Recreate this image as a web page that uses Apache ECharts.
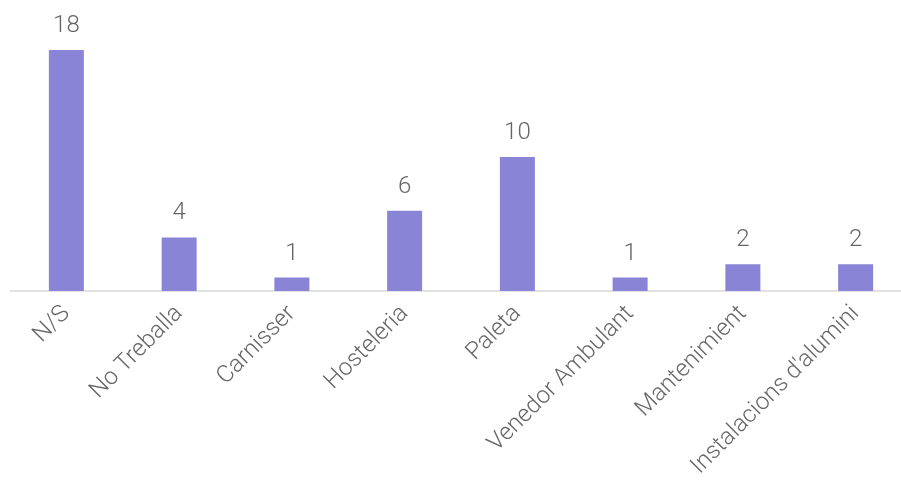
<!DOCTYPE html>
<html>
<head>
<meta charset="utf-8">
<script src="https://cdn.jsdelivr.net/npm/echarts@6/dist/echarts.min.js"></script>
<style>
	html,body{margin:0;padding:0;background:#fff;}
	#chart{width:901px;height:488px;}
</style>
</head>
<body>
<div id="chart"></div>
<script>
	//数据
	var categories = ['N/S','No Treballa','Carnisser','Hosteleria','Paleta','Venedor Ambulant','Mantenimient','Instalacions d\'alumini'];
	var values = [18,4,1,6,10,1,2,2];

	var myEchart = echarts.init(document.getElementById('chart'));
	var option = {
		animation : false,
		grid : {
			left : 10,
			width : 902,
			top : 50,
			bottom : 197,
			outerBoundsMode : 'none'
		},
		xAxis : {
			type : 'category',
			data : categories,
			axisLine : { lineStyle : { color : '#d9d9d9', width : 1.5 } },
			axisTick : { show : false },
			axisLabel : {
				rotate : 45,
				interval : 0,
				margin : 19,
				color : '#666666',
				fontFamily : 'Roboto',
				fontWeight : 300,
				fontSize : 24
			}
		},
		yAxis : {
			type : 'value',
			min : 0,
			max : 18,
			show : false,
			splitLine : { show : false }
		},
		series : [
			{
				type : 'bar',
				data : values,
				barWidth : 35,
				itemStyle : { color : '#8a84d7' },
				label : {
					show : true,
					position : 'top',
					distance : 12,
					color : '#666666',
					fontFamily : 'Roboto',
					fontWeight : 300,
					fontSize : 24
				}
			}
		]
	};
	myEchart.setOption(option);
</script>
</body>
</html>
